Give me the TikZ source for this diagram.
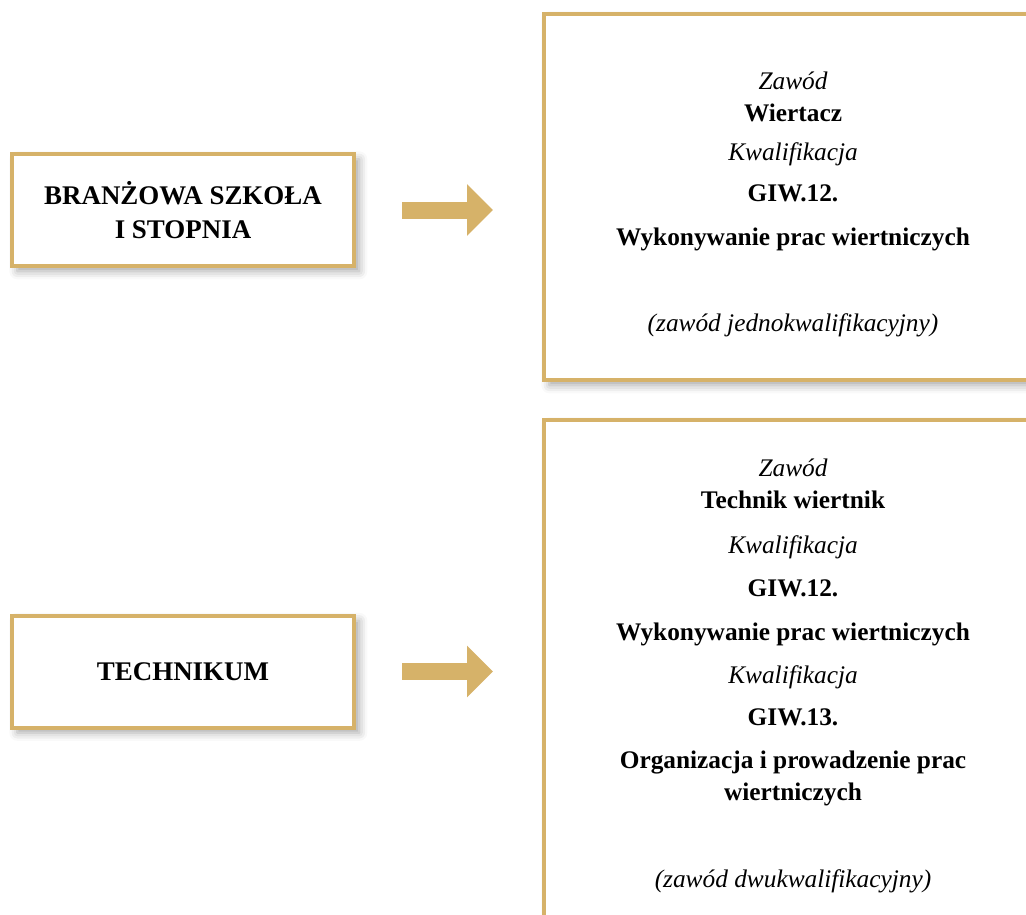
\documentclass[tikz,border=0pt]{standalone}
\usepackage{fontspec}
\setmainfont{Liberation Serif}
\usetikzlibrary{arrows.meta,positioning,shadows.blur}
\definecolor{zloto}{RGB}{214,178,105}

\begin{document}
\begin{tikzpicture}[x=0.75pt,y=-0.75pt,
    cien/.style={blur shadow={shadow xshift=4pt,shadow yshift=-4pt,
                 shadow blur radius=6pt,shadow opacity=35}},
    szkola/.style={draw=zloto,line width=3pt,fill=white,cien,
                   minimum width=256.5pt,minimum height=84pt,align=center,
                   font=\fontsize{20.2}{26}\selectfont\bfseries},
    zawod/.style={draw=zloto,line width=3pt,fill=white,cien,
                  minimum width=373.5pt,align=center,
                  font=\fontsize{19}{24}\selectfont},
    strzalka/.style={draw=zloto,line width=12.75pt,
                     -{Triangle[length=19.5pt,width=37.5pt]},
                     shorten <=34.5pt,shorten >=36.75pt}]

  \useasboundingbox (0,0) rectangle (1026,915);

  \node[szkola] (bs)   at (183,210)   {BRANŻOWA SZKOŁA\\I STOPNIA};
  \node[szkola] (tech) at (183,671.5) {TECHNIKUM};

  \node[zawod,minimum height=274.5pt] (wiert) at (793,197)
    {\rule{0pt}{25pt}{\itshape Zawód}\\{\bfseries Wiertacz}\\[5.25pt]
     {\itshape Kwalifikacja}\\[6.75pt]{\bfseries GIW.12.}\\[9pt]
     {\bfseries Wykonywanie prac wiertniczych}\\[40.5pt]
     {\itshape (zawód jednokwalifikacyjny)}};

  \node[zawod,minimum height=384pt] (techw) at (793,676)
    {{\itshape Zawód}\\{\bfseries Technik wiertnik}\\[9.75pt]
     {\itshape Kwalifikacja}\\[8.25pt]{\bfseries GIW.12.}\\[9pt]
     {\bfseries Wykonywanie prac wiertniczych}\\[8.25pt]
     {\itshape Kwalifikacja}\\[7.5pt]{\bfseries GIW.13.}\\[8.25pt]
     {\bfseries Organizacja i prowadzenie prac}\\
     {\bfseries wiertniczych}\\[41.25pt]
     {\itshape (zawód dwukwalifikacyjny)}};

  \draw[strzalka] (bs.east)   -- (bs.east -| wiert.west);
  \draw[strzalka] (tech.east) -- (tech.east -| techw.west);
\end{tikzpicture}
\end{document}
